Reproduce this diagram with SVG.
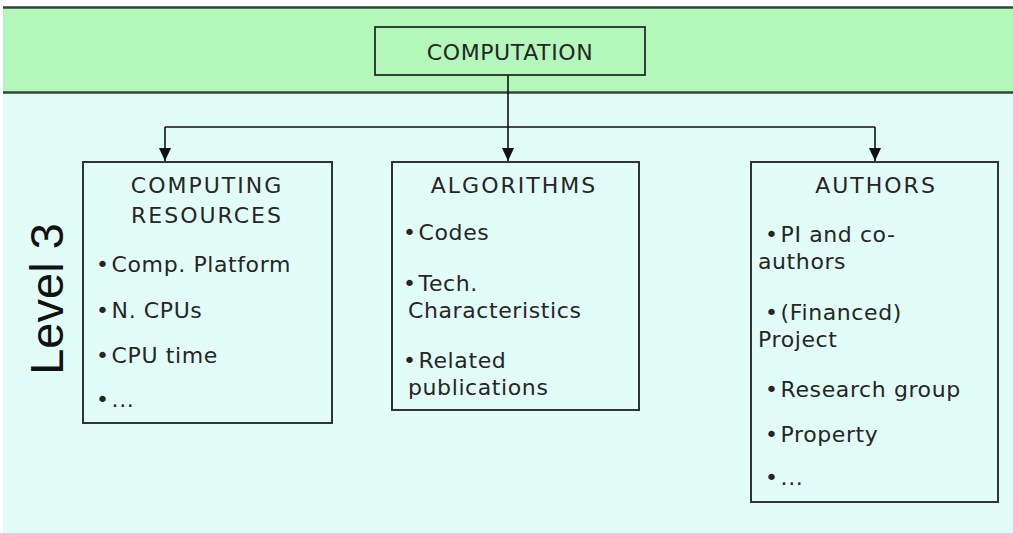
<svg xmlns="http://www.w3.org/2000/svg" width="1013" height="533" viewBox="0 0 1013 533">
  <defs>
    <style>
      .area { fill: #e2fcf7; }
      .box { fill: #e2fcf7; stroke: #333; stroke-width: 2; }
      .topbox { fill: #b4f7ba; stroke: #2a2a2a; stroke-width: 1.8; }
      .t { font-family: "DejaVu Sans", "Liberation Sans", sans-serif; font-size: 22px; fill: #262626; letter-spacing: 0.6px; }
      .h { font-family: "DejaVu Sans", "Liberation Sans", sans-serif; font-size: 22px; fill: #262626; text-anchor: middle; letter-spacing: 2px; }
      .lvl { font-family: "Liberation Sans", Arial, sans-serif; font-size: 47px; fill: #111; text-anchor: middle; }
      .conn { fill: none; stroke: #111; stroke-width: 1.6; }
    </style>
    <marker id="arrow" viewBox="0 0 13 12" refX="13" refY="6" markerWidth="13" markerHeight="12" markerUnits="userSpaceOnUse" orient="auto">
      <path d="M0,0 L13,6 L0,12 Z" fill="#111"/>
    </marker>
  </defs>

  <!-- page background -->
  <rect x="0" y="0" width="1013" height="533" fill="#ffffff"/>
  <rect class="area" x="3" y="92" width="1010" height="441"/>
  <!-- header band -->
  <rect x="3" y="7.5" width="1012" height="85" fill="#b4f7ba"/>
  <line x1="3" y1="7.5" x2="1013" y2="7.5" stroke="#34443c" stroke-width="2.5"/>
  <line x1="3" y1="92.5" x2="1013" y2="92.5" stroke="#34443c" stroke-width="2.5"/>

  <!-- side label -->
  <text class="lvl" transform="translate(63,299) rotate(-90)">Level 3</text>

  <!-- connectors -->
  <g id="connectors">
    <path class="conn" d="M508,75 V127"/>
    <path class="conn" d="M165,127 H875"/>
    <path class="conn" d="M165,127 V161" marker-end="url(#arrow)"/>
    <path class="conn" d="M508,127 V161" marker-end="url(#arrow)"/>
    <path class="conn" d="M875,127 V161" marker-end="url(#arrow)"/>
  </g>

  <g id="computation">
    <rect class="topbox" x="375" y="27" width="270" height="48"/>
    <text class="t" x="510" y="60" text-anchor="middle" font-size="24" letter-spacing="1.2">COMPUTATION</text>
  </g>

  <g id="computing-resources">
    <rect class="box" x="83" y="162" width="249" height="261"/>
    <text class="h" x="207" y="193">COMPUTING</text>
    <text class="h" x="207" y="223">RESOURCES</text>
    <text class="t" x="96" y="272">•<tspan dx="2">Comp. Platform</tspan></text>
    <text class="t" x="96" y="318">•<tspan dx="2">N. CPUs</tspan></text>
    <text class="t" x="96" y="363">•<tspan dx="2">CPU time</tspan></text>
    <text class="t" x="96" y="407">•<tspan dx="2">...</tspan></text>
  </g>

  <g id="algorithms">
    <rect class="box" x="392" y="162" width="247" height="248"/>
    <text class="h" x="514" y="193">ALGORITHMS</text>
    <text class="t" x="403" y="240">•<tspan dx="2">Codes</tspan></text>
    <text class="t" x="403" y="291">•<tspan dx="2">Tech.</tspan></text>
    <text class="t" x="408" y="318">Characteristics</text>
    <text class="t" x="403" y="368">•<tspan dx="2">Related</tspan></text>
    <text class="t" x="408" y="395">publications</text>
  </g>

  <g id="authors">
    <rect class="box" x="751" y="162" width="247" height="340"/>
    <text class="h" x="876" y="193">AUTHORS</text>
    <text class="t" x="765" y="242">•<tspan dx="2">PI and co-</tspan></text>
    <text class="t" x="758" y="269">authors</text>
    <text class="t" x="765" y="320">•<tspan dx="2">(Financed)</tspan></text>
    <text class="t" x="758" y="347">Project</text>
    <text class="t" x="765" y="397">•<tspan dx="2">Research group</tspan></text>
    <text class="t" x="765" y="442">•<tspan dx="2">Property</tspan></text>
    <text class="t" x="765" y="485">•<tspan dx="2">...</tspan></text>
  </g>
</svg>
